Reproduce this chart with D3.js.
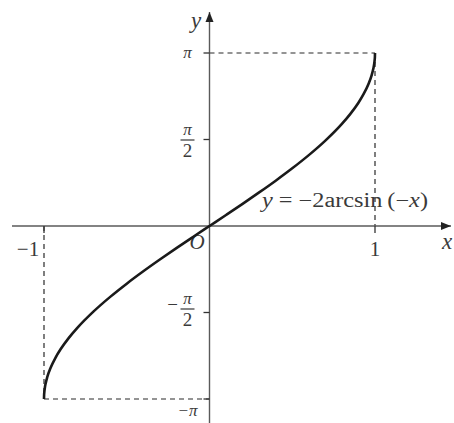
<!DOCTYPE html>
<html>
<head>
<meta charset="utf-8">
<script src="https://cdn.jsdelivr.net/npm/d3@7"></script>
<style>
  html, body { margin: 0; padding: 0; background: #fff; }
  svg { display: block; }
  text { font-family: "Liberation Serif", "DejaVu Serif", serif; fill: #3a3a3a; }
</style>
</head>
<body>
<svg id="chart" width="454" height="423"></svg>
<script>
// Sample x positions along the curve (denser near the ends, where it turns steeply)
const xSamples = [-1, -0.9995, -0.998, -0.995, -0.99, -0.98, -0.96, -0.93, -0.9, -0.85, -0.8, -0.7, -0.6, -0.5, -0.4, -0.3, -0.2, -0.1, 0,
                  0.1, 0.2, 0.3, 0.4, 0.5, 0.6, 0.7, 0.8, 0.85, 0.9, 0.93, 0.96, 0.98, 0.99, 0.995, 0.998, 0.9995, 1];
// The plotted function, y = -2 arcsin(-x)
const f = x => -2 * Math.asin(-x);

const xTickValues = [-1, 1];
const xTickLabels = ["\u22121", "1"];
const yTickValues = [Math.PI, Math.PI / 2, -Math.PI / 2, -Math.PI];
const yTickLabels = ["\u03c0", "\u03c0/2", "\u2212\u03c0/2", "\u2212\u03c0"];

const svg = d3.select("#chart");
const x = d3.scaleLinear().domain([-1, 1]).range([44, 375]);
const y = d3.scaleLinear().domain([-Math.PI, Math.PI]).range([399, 53]);
const x0 = x(0), y0 = y(0);
const axisColor = "#5a5a5a";

// arrowhead
svg.append("defs").append("marker")
  .attr("id", "arrow").attr("viewBox", "0 0 10 10")
  .attr("refX", 10).attr("refY", 5)
  .attr("markerWidth", 10).attr("markerHeight", 10)
  .attr("markerUnits", "userSpaceOnUse")
  .attr("orient", "auto")
  .append("path").attr("d", "M0,1 L10,5 L0,9 Z").attr("fill", "#222");

// dashed guide lines to the curve's end points
const guides = [
  [x0, y(Math.PI), x(1), y(Math.PI)],
  [x(1), y(Math.PI), x(1), y0],
  [x(-1), y0, x(-1), y(-Math.PI)],
  [x(-1), y(-Math.PI), x0, y(-Math.PI)]
];
svg.selectAll("line.guide").data(guides).join("line")
  .attr("class", "guide")
  .attr("x1", d => d[0]).attr("y1", d => d[1])
  .attr("x2", d => d[2]).attr("y2", d => d[3])
  .attr("stroke", "#2a2a2a").attr("stroke-width", 1.2)
  .attr("stroke-dasharray", "5,4");

// axes
svg.append("line").attr("x1", 12).attr("y1", y0).attr("x2", 451).attr("y2", y0)
  .attr("stroke", axisColor).attr("stroke-width", 1.4).attr("marker-end", "url(#arrow)");
svg.append("line").attr("x1", x0).attr("y1", 423).attr("x2", x0).attr("y2", 12)
  .attr("stroke", axisColor).attr("stroke-width", 1.4).attr("marker-end", "url(#arrow)");

// ticks on the x axis
svg.selectAll("line.xtick").data(xTickValues).join("line")
  .attr("class", "xtick")
  .attr("x1", d => x(d)).attr("x2", d => x(d))
  .attr("y1", y0).attr("y2", y0 + 7)
  .attr("stroke", "#333").attr("stroke-width", 1.3);

// ticks on the y axis
svg.selectAll("line.ytick").data(yTickValues).join("line")
  .attr("class", "ytick")
  .attr("x1", x0 - 6).attr("x2", x0)
  .attr("y1", d => y(d)).attr("y2", d => y(d))
  .attr("stroke", "#333").attr("stroke-width", 1.3);

// x tick labels
svg.selectAll("text.xlab").data(xTickValues).join("text")
  .attr("class", "xlab")
  .attr("x", (d, i) => d < 0 ? x(d) - 16 : x(d))
  .attr("y", y0 + 30)
  .attr("text-anchor", "middle")
  .attr("font-size", 21)
  .text((d, i) => xTickLabels[i]);

// y tick labels: plain for ±π, stacked fractions for ±π/2
const pi = "\u03c0";
function yLabel(v, label) {
  const g = svg.append("g");
  const cy = y(v);
  if (Math.abs(v) === Math.PI) {
    g.append("text")
      .attr("x", x0 - 22).attr("y", v > 0 ? cy + 5 : cy + 17)
      .attr("text-anchor", "middle").attr("font-size", 17).attr("font-style", "italic")
      .text(v > 0 ? pi : "\u2212" + pi);
  } else {
    const fx = x0 - 22;
    const shift = v > 0 ? 0 : 4;
    g.append("text").attr("x", fx).attr("y", cy - 5 - shift)
      .attr("text-anchor", "middle").attr("font-size", 17).attr("font-style", "italic").text(pi);
    g.append("line").attr("x1", fx - 7).attr("x2", fx + 7)
      .attr("y1", cy - shift + 0.5).attr("y2", cy - shift + 0.5)
      .attr("stroke", "#444").attr("stroke-width", 1.3);
    g.append("text").attr("x", fx).attr("y", cy + 17 - shift)
      .attr("text-anchor", "middle").attr("font-size", 19)
      .attr("font-family", "'DejaVu Sans', sans-serif").text("2");
    if (v < 0) {
      g.append("text").attr("x", fx - 15).attr("y", cy + 2 - shift)
        .attr("text-anchor", "middle").attr("font-size", 19).text("\u2212");
    }
  }
}
yTickValues.forEach((v, i) => yLabel(v, yTickLabels[i]));

// axis names and origin
svg.append("text").attr("x", 196).attr("y", 28).attr("text-anchor", "middle")
  .attr("font-size", 23).attr("font-style", "italic").text("y");
svg.append("text").attr("x", 447).attr("y", 249).attr("text-anchor", "middle")
  .attr("font-size", 23).attr("font-style", "italic").text("x");
svg.append("text").attr("x", 197).attr("y", 249).attr("text-anchor", "middle")
  .attr("font-size", 21).attr("font-style", "italic").text("O");

// the curve
const line = d3.line().x(d => x(d)).y(d => y(f(d))).curve(d3.curveMonotoneX);
svg.append("path").datum(xSamples)
  .attr("d", line)
  .attr("fill", "none").attr("stroke", "#1a1a1a").attr("stroke-width", 2.6);

// equation label
const eq = svg.append("text").attr("x", 262).attr("y", 207).attr("font-size", 20)
  .attr("textLength", 166).attr("lengthAdjust", "spacingAndGlyphs");
eq.append("tspan").attr("font-style", "italic").text("y");
eq.append("tspan").text(" = \u22122arcsin\u2009(\u2212");
eq.append("tspan").attr("font-style", "italic").text("x");
eq.append("tspan").text(")");
</script>
</body>
</html>
